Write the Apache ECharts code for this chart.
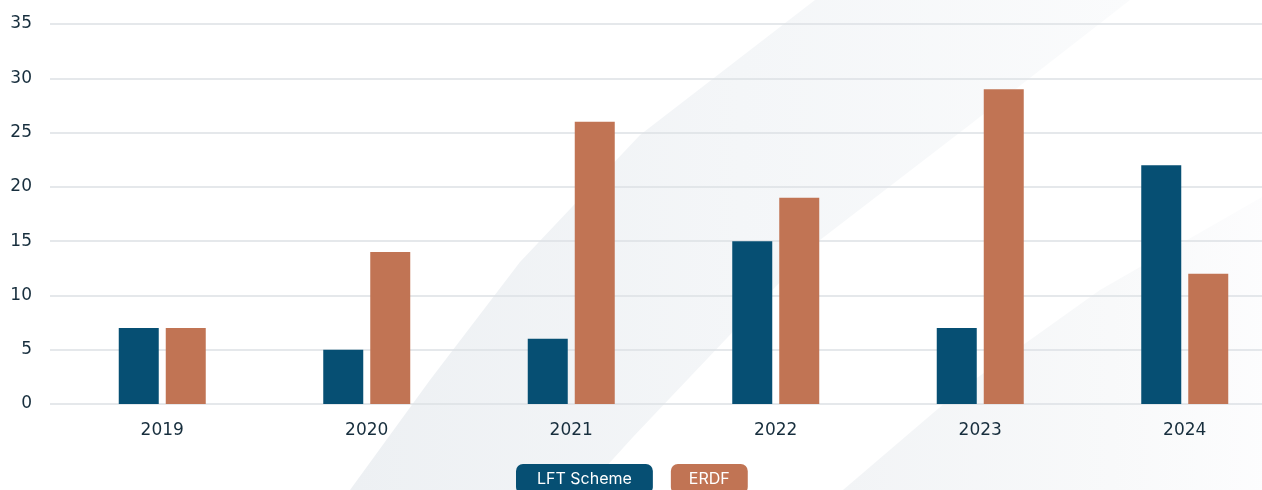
<!DOCTYPE html>
<html>
<head>
<meta charset="utf-8">
<script src="https://cdn.jsdelivr.net/npm/echarts@6/dist/echarts.min.js"></script>
<style>
html,body{margin:0;padding:0;background:#fff;overflow:hidden;width:1262px;height:490px;}
#chart{width:1287px;height:490px;}
</style>
</head>
<body>
<div id="chart"></div>
<script>
const categories = ['2019', '2020', '2021', '2022', '2023', '2024'];
const lftScheme = [7, 5, 6, 15, 7, 22];
const erdf = [7, 14, 26, 19, 29, 12];
const yTicks = [0, 5, 10, 15, 20, 25, 30, 35];

const chart = echarts.init(document.getElementById('chart'));
const textColor = '#172e3d';
const axisFont = 'DejaVu Sans';
const legendFont = 'Inter';

chart.setOption({
  backgroundColor: '#ffffff',
  animation: false,
  graphic: [
    {
      type: 'polygon', z: -10, silent: true,
      shape: { points: [[350, 490], [430, 380], [520, 262], [640, 135], [815, 0], [1130, 0], [967, 127], [820, 240], [633, 437], [585, 490]] },
      style: {
        fill: new echarts.graphic.LinearGradient(0, 0, 1, 0, [
          { offset: 0, color: '#edf0f3' },
          { offset: 0.5, color: '#f4f6f8' },
          { offset: 1, color: '#fafbfc' }
        ])
      }
    },
    {
      type: 'polygon', z: -9, silent: true,
      shape: { points: [[843, 490], [960, 390], [1100, 290], [1262, 197], [1290, 190], [1290, 490]] },
      style: {
        fill: new echarts.graphic.LinearGradient(0, 0, 1, 0, [
          { offset: 0, color: '#f2f4f6' },
          { offset: 0.6, color: '#f8f9fa' },
          { offset: 1, color: '#fdfdfe' }
        ])
      }
    }
  ],
  grid: [
    { left: 60, top: 24, right: 0, height: 380, containLabel: false },
    { left: 50, top: 24, right: 0, height: 380, containLabel: false }
  ],
  legend: {
    top: 464,
    left: 511,
    padding: 0,
    itemGap: 13,
    itemWidth: 0,
    itemHeight: 0,
    icon: 'none',
    selectedMode: false,
    data: [
      { name: 'LFT Scheme', textStyle: { backgroundColor: '#064f73', color: '#fff', padding: [7, 21, 7, 21], borderRadius: 7, fontSize: 16, lineHeight: 16, fontFamily: legendFont } },
      { name: 'ERDF', textStyle: { backgroundColor: '#c17454', color: '#fff', padding: [7, 18, 7, 18], borderRadius: 7, fontSize: 16, lineHeight: 16, fontFamily: legendFont } }
    ]
  },
  xAxis: [
    {
      type: 'category', gridIndex: 0,
      data: categories,
      axisLine: { show: false },
      axisTick: { show: false },
      axisLabel: { color: textColor, fontSize: 17, fontFamily: axisFont, margin: 18 }
    },
    { type: 'value', gridIndex: 1, show: false, min: 0, max: 1 }
  ],
  yAxis: [
    {
      type: 'value', gridIndex: 0,
      min: 0, max: 35, interval: 5,
      axisLine: { show: false },
      axisTick: { show: false },
      splitLine: { show: false },
      axisLabel: {
        color: textColor, fontSize: 17, fontFamily: axisFont, margin: 28,
        formatter: v => yTicks.includes(v) ? String(v) : ''
      }
    },
    {
      type: 'value', gridIndex: 1,
      min: 0, max: 35, interval: 5,
      axisLine: { show: false },
      axisTick: { show: false },
      axisLabel: { show: false },
      splitLine: { lineStyle: { color: '#dde0e4', width: 1.5 } }
    }
  ],
  series: [
    { name: 'LFT Scheme', type: 'bar', xAxisIndex: 0, yAxisIndex: 0, data: lftScheme, barWidth: 40, barGap: '17.5%', itemStyle: { color: '#064f73' } },
    { name: 'ERDF', type: 'bar', xAxisIndex: 0, yAxisIndex: 0, data: erdf, barWidth: 40, itemStyle: { color: '#c17454' } }
  ]
});
</script>
</body>
</html>
